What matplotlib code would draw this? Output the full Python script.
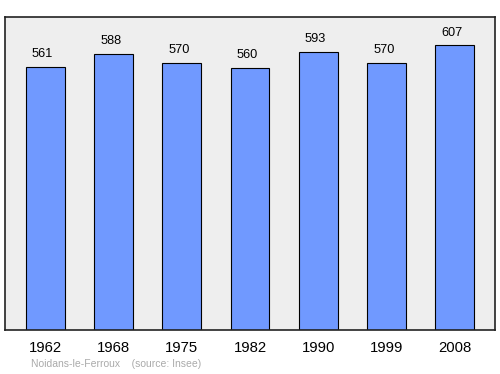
import matplotlib
matplotlib.use("Agg")
import matplotlib.pyplot as plt

years = ["1962", "1968", "1975", "1982", "1990", "1999", "2008"]
population = [561, 588, 570, 560, 593, 570, 607]

plt.rcParams['font.family'] = ['Liberation Sans', 'DejaVu Sans']

fig = plt.figure(figsize=(5, 3.74), dpi=100)
ax = fig.add_axes([0.01, 0.1176, 0.98, 0.8369])
ax.set_facecolor('#eeeeee')
x = list(range(len(years)))
ax.bar(x, population, width=0.57, color='#7099ff', edgecolor='black', linewidth=0.8, zorder=2)
ymax = max(population) * 1.1
ax.set_ylim(0, ymax)
ax.set_xlim(-0.586, len(years) - 1 + 0.586)
for xi, v in zip(x, population):
    ax.text(xi - 0.04, v + ymax * 0.022, str(v), ha='center', va='bottom', fontsize=9.2, color='black')
ax.set_yticks([])
ax.set_xticks(x)
ax.set_xticklabels(years, fontsize=10.7)
ax.tick_params(axis='x', length=0, pad=8)
for s in ax.spines.values():
    s.set_linewidth(1.2)
    s.set_color('#222222')
fig.text(0.062, 0.027, "Noidans-le-Ferroux    (source: Insee)", fontsize=7.5, color='#aaaaaa', ha='left', va='center')
fig.savefig("out.png", dpi=100)
